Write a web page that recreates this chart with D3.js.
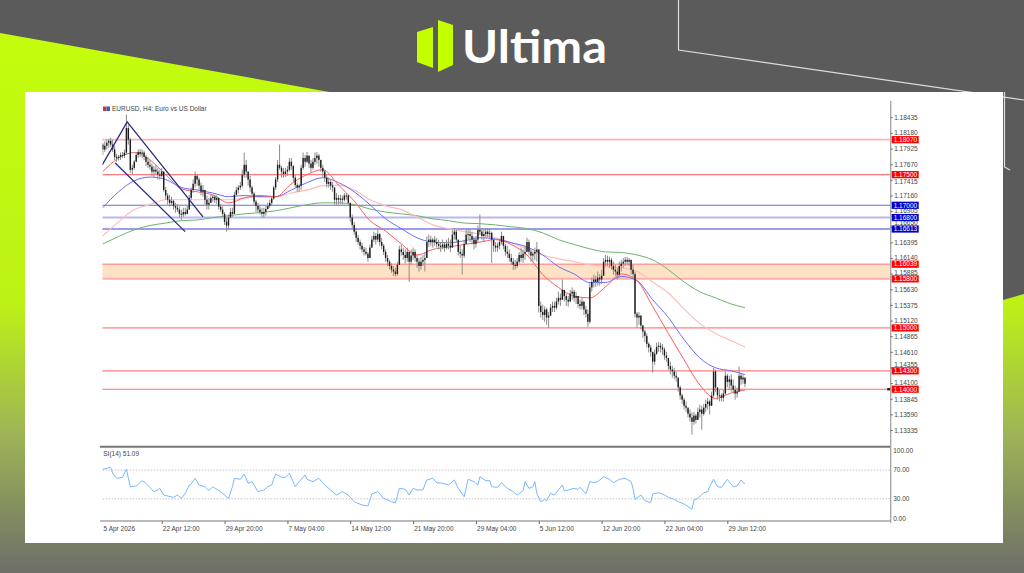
<!DOCTYPE html>
<html>
<head>
<meta charset="utf-8">
<style>
  body { margin: 0; background: #5b5b5b; }
  svg { display: block; }
  .axis text, .lbl { font-family: "Liberation Sans", Arial, sans-serif; font-size: 6.5px; fill: #444; }
  .axis path { display: none; }
  .axis line { stroke: #666; }
</style>
<script src="https://cdn.jsdelivr.net/npm/d3@7/dist/d3.min.js"></script>
</head>
<body>
<svg id="chart" width="1024" height="573"></svg>
<script>
// ---- data (EURUSD H4) ----
var firstBar = 2;       // index of the first visible bar
var firstOpen = 1.1799;
var highs = [
  1.1802,1.1804,1.1807,1.1808,1.1810,1.1807,1.1797,1.1784,1.1782,1.1786,
  1.1787,1.1791,1.1848,1.1831,1.1810,1.1766,1.1774,1.1787,1.1791,1.1792,
  1.1791,1.1789,1.1782,1.1779,1.1774,1.1768,1.1764,1.1766,1.1761,1.1758,
  1.1761,1.1755,1.1730,1.1720,1.1717,1.1714,1.1709,1.1704,1.1702,1.1698,
  1.1693,1.1696,1.1696,1.1699,1.1717,1.1729,1.1742,1.1755,1.1751,1.1745,
  1.1737,1.1733,1.1722,1.1716,1.1712,1.1717,1.1717,1.1717,1.1716,1.1709,
  1.1702,1.1698,1.1689,1.1680,1.1685,1.1696,1.1696,1.1722,1.1730,1.1733,
  1.1738,1.1758,1.1786,1.1774,1.1755,1.1748,1.1732,1.1722,1.1709,1.1704,
  1.1699,1.1696,1.1696,1.1699,1.1704,1.1709,1.1714,1.1732,1.1746,1.1774,
  1.1799,1.1764,1.1761,1.1761,1.1764,1.1777,1.1777,1.1766,1.1750,1.1737,
  1.1735,1.1766,1.1786,1.1782,1.1787,1.1781,1.1774,1.1777,1.1786,1.1787,
  1.1784,1.1774,1.1766,1.1758,1.1750,1.1745,1.1742,1.1738,1.1729,1.1720,
  1.1717,1.1717,1.1716,1.1720,1.1720,1.1717,1.1701,1.1685,1.1673,1.1663,
  1.1652,1.1644,1.1639,1.1632,1.1631,1.1624,1.1636,1.1650,1.1657,1.1655,
  1.1660,1.1655,1.1647,1.1637,1.1628,1.1619,1.1611,1.1605,1.1601,1.1598,
  1.1608,1.1634,1.1636,1.1631,1.1628,1.1631,1.1619,1.1628,1.1631,1.1628,
  1.1619,1.1614,1.1616,1.1619,1.1624,1.1649,1.1652,1.1650,1.1647,1.1650,
  1.1647,1.1644,1.1640,1.1644,1.1640,1.1644,1.1647,1.1644,1.1660,1.1663,
  1.1660,1.1644,1.1634,1.1628,1.1644,1.1660,1.1663,1.1660,1.1657,1.1649,
  1.1650,1.1667,1.1685,1.1663,1.1660,1.1663,1.1663,1.1662,1.1657,1.1644,
  1.1640,1.1639,1.1644,1.1657,1.1650,1.1637,1.1634,1.1628,1.1621,1.1614,
  1.1611,1.1614,1.1624,1.1631,1.1628,1.1634,1.1647,1.1644,1.1628,1.1624,
  1.1631,1.1640,1.1619,1.1543,1.1538,1.1535,1.1533,1.1526,1.1539,1.1543,
  1.1543,1.1549,1.1559,1.1556,1.1579,1.1562,1.1556,1.1552,1.1562,1.1566,
  1.1562,1.1559,1.1551,1.1546,1.1549,1.1543,1.1536,1.1530,1.1575,1.1582,
  1.1587,1.1585,1.1592,1.1588,1.1595,1.1614,1.1619,1.1618,1.1616,1.1614,
  1.1608,1.1603,1.1598,1.1608,1.1611,1.1614,1.1616,1.1616,1.1614,1.1608,
  1.1603,1.1592,1.1526,1.1526,1.1521,1.1505,1.1497,1.1491,1.1477,1.1472,
  1.1460,1.1465,1.1476,1.1477,1.1476,1.1474,1.1468,1.1461,1.1451,1.1445,
  1.1438,1.1435,1.1429,1.1419,1.1406,1.1393,1.1386,1.1380,1.1370,1.1367,
  1.1362,1.1363,1.1360,1.1370,1.1375,1.1373,1.1376,1.1383,1.1386,1.1383,
  1.1396,1.1435,1.1432,1.1403,1.1399,1.1393,1.1399,1.1429,1.1425,1.1422,
  1.1424,1.1416,1.1406,1.1403,1.1437,1.1425,1.1424,1.1419
];
var lows = [
  1.1782,1.1787,1.1791,1.1794,1.1795,1.1787,1.1774,1.1771,1.1773,1.1774,
  1.1777,1.1777,1.1782,1.1799,1.1753,1.1750,1.1758,1.1771,1.1777,1.1779,
  1.1777,1.1774,1.1764,1.1761,1.1758,1.1748,1.1746,1.1750,1.1742,1.1742,
  1.1745,1.1722,1.1709,1.1701,1.1698,1.1699,1.1693,1.1688,1.1689,1.1680,
  1.1676,1.1681,1.1683,1.1685,1.1693,1.1709,1.1720,1.1729,1.1732,1.1725,
  1.1716,1.1714,1.1701,1.1693,1.1693,1.1704,1.1706,1.1704,1.1702,1.1693,
  1.1689,1.1681,1.1668,1.1657,1.1660,1.1680,1.1681,1.1689,1.1716,1.1719,
  1.1725,1.1729,1.1745,1.1745,1.1732,1.1722,1.1714,1.1701,1.1689,1.1688,
  1.1685,1.1680,1.1680,1.1683,1.1693,1.1696,1.1699,1.1709,1.1725,1.1738,
  1.1758,1.1745,1.1745,1.1746,1.1748,1.1755,1.1758,1.1738,1.1729,1.1722,
  1.1722,1.1725,1.1758,1.1763,1.1769,1.1761,1.1753,1.1758,1.1766,1.1768,
  1.1763,1.1755,1.1746,1.1738,1.1729,1.1729,1.1725,1.1722,1.1701,1.1701,
  1.1701,1.1702,1.1701,1.1706,1.1709,1.1701,1.1673,1.1663,1.1652,1.1640,
  1.1636,1.1628,1.1623,1.1618,1.1618,1.1608,1.1614,1.1631,1.1640,1.1636,
  1.1640,1.1634,1.1628,1.1619,1.1608,1.1601,1.1595,1.1590,1.1585,1.1584,
  1.1585,1.1608,1.1618,1.1611,1.1605,1.1608,1.1575,1.1603,1.1611,1.1608,
  1.1598,1.1592,1.1595,1.1601,1.1592,1.1619,1.1632,1.1634,1.1631,1.1634,
  1.1631,1.1628,1.1624,1.1628,1.1624,1.1628,1.1628,1.1624,1.1631,1.1644,
  1.1639,1.1618,1.1614,1.1587,1.1614,1.1636,1.1644,1.1640,1.1636,1.1628,
  1.1631,1.1640,1.1652,1.1644,1.1640,1.1647,1.1647,1.1647,1.1606,1.1624,
  1.1624,1.1624,1.1628,1.1636,1.1628,1.1618,1.1614,1.1608,1.1603,1.1595,
  1.1595,1.1598,1.1605,1.1608,1.1606,1.1611,1.1624,1.1618,1.1608,1.1608,
  1.1611,1.1608,1.1525,1.1517,1.1513,1.1510,1.1505,1.1500,1.1520,1.1526,
  1.1526,1.1530,1.1538,1.1536,1.1546,1.1543,1.1536,1.1535,1.1543,1.1546,
  1.1543,1.1539,1.1533,1.1530,1.1530,1.1521,1.1517,1.1502,1.1507,1.1559,
  1.1566,1.1567,1.1569,1.1569,1.1572,1.1587,1.1601,1.1601,1.1598,1.1595,
  1.1587,1.1585,1.1579,1.1582,1.1592,1.1598,1.1601,1.1603,1.1601,1.1587,
  1.1582,1.1517,1.1500,1.1505,1.1497,1.1484,1.1477,1.1468,1.1460,1.1453,
  1.1427,1.1440,1.1456,1.1461,1.1460,1.1456,1.1448,1.1445,1.1432,1.1424,
  1.1419,1.1416,1.1412,1.1396,1.1383,1.1376,1.1367,1.1363,1.1354,1.1347,
  1.1326,1.1342,1.1344,1.1350,1.1354,1.1334,1.1357,1.1363,1.1367,1.1359,
  1.1375,1.1386,1.1396,1.1383,1.1380,1.1380,1.1380,1.1391,1.1403,1.1399,
  1.1396,1.1393,1.1383,1.1386,1.1399,1.1407,1.1409,1.1403
];
var closes = [
  1.1791,1.1797,1.1802,1.1805,1.1799,1.1791,1.1779,1.1777,1.1779,1.1782,
  1.1781,1.1786,1.1826,1.1807,1.1758,1.1761,1.1771,1.1782,1.1787,1.1784,
  1.1786,1.1779,1.1771,1.1766,1.1763,1.1755,1.1758,1.1755,1.1750,1.1748,
  1.1755,1.1725,1.1716,1.1709,1.1704,1.1707,1.1699,1.1696,1.1693,1.1686,
  1.1685,1.1689,1.1686,1.1693,1.1712,1.1725,1.1735,1.1748,1.1742,1.1732,
  1.1722,1.1725,1.1709,1.1701,1.1704,1.1712,1.1714,1.1709,1.1712,1.1698,
  1.1693,1.1686,1.1673,1.1667,1.1680,1.1689,1.1686,1.1717,1.1725,1.1729,
  1.1732,1.1750,1.1766,1.1755,1.1742,1.1729,1.1719,1.1706,1.1699,1.1693,
  1.1689,1.1686,1.1689,1.1694,1.1699,1.1704,1.1711,1.1729,1.1742,1.1766,
  1.1761,1.1755,1.1751,1.1755,1.1758,1.1771,1.1764,1.1745,1.1733,1.1729,
  1.1732,1.1761,1.1777,1.1771,1.1781,1.1768,1.1761,1.1771,1.1777,1.1781,
  1.1774,1.1761,1.1755,1.1745,1.1735,1.1738,1.1732,1.1729,1.1709,1.1712,
  1.1709,1.1711,1.1709,1.1716,1.1716,1.1704,1.1680,1.1668,1.1657,1.1647,
  1.1640,1.1634,1.1628,1.1624,1.1621,1.1614,1.1631,1.1644,1.1650,1.1644,
  1.1653,1.1640,1.1634,1.1624,1.1614,1.1608,1.1601,1.1595,1.1592,1.1588,
  1.1603,1.1628,1.1624,1.1619,1.1614,1.1624,1.1608,1.1618,1.1624,1.1614,
  1.1608,1.1601,1.1608,1.1611,1.1614,1.1640,1.1644,1.1640,1.1644,1.1640,
  1.1637,1.1634,1.1632,1.1636,1.1631,1.1637,1.1634,1.1631,1.1652,1.1657,
  1.1644,1.1624,1.1621,1.1618,1.1637,1.1652,1.1653,1.1650,1.1644,1.1637,
  1.1644,1.1660,1.1657,1.1650,1.1653,1.1657,1.1653,1.1655,1.1644,1.1634,
  1.1631,1.1634,1.1640,1.1650,1.1634,1.1624,1.1621,1.1614,1.1608,1.1603,
  1.1601,1.1608,1.1619,1.1614,1.1621,1.1624,1.1640,1.1624,1.1618,1.1621,
  1.1624,1.1628,1.1536,1.1526,1.1521,1.1530,1.1517,1.1520,1.1533,1.1536,
  1.1533,1.1543,1.1549,1.1546,1.1562,1.1552,1.1546,1.1543,1.1556,1.1559,
  1.1549,1.1552,1.1539,1.1536,1.1543,1.1530,1.1523,1.1510,1.1566,1.1575,
  1.1579,1.1575,1.1582,1.1579,1.1585,1.1608,1.1611,1.1608,1.1611,1.1601,
  1.1595,1.1592,1.1587,1.1601,1.1605,1.1608,1.1611,1.1608,1.1611,1.1595,
  1.1588,1.1523,1.1517,1.1520,1.1504,1.1494,1.1487,1.1474,1.1468,1.1461,
  1.1445,1.1458,1.1469,1.1471,1.1468,1.1465,1.1455,1.1451,1.1438,1.1432,
  1.1429,1.1422,1.1419,1.1403,1.1390,1.1383,1.1373,1.1370,1.1360,1.1354,
  1.1347,1.1357,1.1350,1.1363,1.1367,1.1360,1.1370,1.1376,1.1380,1.1373,
  1.1390,1.1429,1.1403,1.1390,1.1390,1.1386,1.1393,1.1422,1.1412,1.1416,
  1.1406,1.1399,1.1393,1.1396,1.1422,1.1416,1.1419,1.1409
];

// moving averages sampled at these bar indices
var maIdx = [2,10,18,26,34,42,50,58,66,74,82,90,98,106,114,122,130,138,146,154,162,170,
  178,186,194,202,210,218,226,234,242,250,258,266,274,282,290,298,306,314,322,329];
var maRed = [1.1755,1.1777,1.1786,1.1774,1.1750,1.1727,1.1722,1.1717,1.1704,1.1712,1.1716,1.1714,
  1.1735,1.1750,1.1758,1.1733,1.1707,1.1675,1.1658,1.1637,1.1619,1.1628,1.1632,1.1636,1.1640,1.1644,
  1.1636,1.1619,1.1587,1.1566,1.1552,1.1549,1.1567,1.1588,1.1577,1.1535,1.1491,1.1448,1.1407,1.1385,
  1.1394,1.1399];
var maBlue = [1.1696,1.1722,1.1740,1.1746,1.1742,1.1729,1.1725,1.1720,1.1714,1.1716,1.1714,1.1714,
  1.1725,1.1737,1.1745,1.1737,1.1722,1.1701,1.1678,1.1662,1.1647,1.1640,1.1639,1.1642,1.1647,1.1645,
  1.1639,1.1632,1.1619,1.1600,1.1588,1.1574,1.1574,1.1584,1.1577,1.1546,1.1517,1.1481,1.1451,1.1435,
  1.1430,1.1424];
var maPink = [1.1650,1.1673,1.1693,1.1701,1.1709,1.1709,1.1709,1.1709,1.1709,1.1712,1.1714,1.1714,
  1.1720,1.1725,1.1732,1.1733,1.1725,1.1709,1.1699,1.1693,1.1681,1.1668,1.1662,1.1657,1.1653,1.1647,
  1.1639,1.1629,1.1619,1.1613,1.1608,1.1603,1.1600,1.1598,1.1592,1.1575,1.1557,1.1531,1.1507,1.1491,
  1.1479,1.1469];
var maGreen = [1.1637,1.1649,1.1660,1.1667,1.1671,1.1675,1.1676,1.1680,1.1683,1.1686,1.1688,1.1691,
  1.1696,1.1701,1.1704,1.1704,1.1701,1.1694,1.1689,1.1686,1.1683,1.1678,1.1675,1.1671,1.1670,1.1668,
  1.1665,1.1662,1.1655,1.1644,1.1636,1.1629,1.1624,1.1623,1.1619,1.1611,1.1595,1.1575,1.1559,1.1549,
  1.1539,1.1533];

// RSI(14)
var rsiIdx = [2,6,7,9,12,14,16,19,22,24,28,30,31,33,35,38,40,42,44,46,47,49,51,54,56,58,62,64,66,68,
  69,72,74,76,78,81,84,86,88,90,93,95,97,100,102,105,106,109,112,115,118,121,124,127,130,134,137,139,
  142,145,149,151,153,156,158,160,162,165,167,170,172,175,178,181,183,186,188,191,193,194,197,199,200,
  203,205,208,211,213,216,217,219,221,222,223,225,227,228,230,232,234,236,237,239,242,244,245,247,248,
  250,252,254,257,260,262,265,268,271,272,273,276,278,281,282,285,288,290,293,295,298,300,302,303,305,
  308,310,311,313,315,317,320,321,323,325,327,328,329];
var rsiVal = [71.1,73.9,65.6,58.6,60.0,71.1,46.9,47.9,55.3,51.7,40.0,42.4,44.7,35.4,34.0,32.2,35.4,30.8,
  37.8,49.3,50.7,58.6,49.3,46.9,41.4,46.9,40.0,35.4,30.8,46.9,58.6,57.2,64.6,51.7,53.9,40.0,42.4,46.9,
  49.3,64.6,60.0,60.0,65.6,46.9,53.9,63.2,57.2,53.9,58.6,49.3,42.4,35.4,40.0,35.4,26.1,21.5,20.1,36.8,
  40.0,30.8,26.1,24.7,44.7,43.3,35.4,44.7,42.4,42.4,56.3,58.6,52.5,51.7,49.3,56.3,44.7,33.1,57.2,53.9,
  49.3,60.8,55.3,55.3,46.9,46.1,52.5,44.7,40.0,35.4,41.4,53.9,44.7,46.9,53.9,37.8,26.1,29.4,27.5,37.8,
  35.4,42.4,49.3,41.4,42.4,44.7,43.3,46.1,40.0,36.8,53.9,52.5,53.9,60.8,57.2,52.5,57.2,58.6,53.9,44.7,
  29.4,35.4,27.5,24.7,36.8,38.6,35.4,32.2,29.4,26.1,22.9,19.2,15.6,28.5,30.8,38.6,40.0,46.9,57.2,46.9,
  46.1,57.2,53.9,46.9,47.9,56.3,52.5,51.09];
var rsiTicks = [100, 70, 30, 0];

// horizontal levels and zone
var levelValues = [1.18070, 1.17500, 1.17000, 1.16800, 1.16613, 1.16039, 1.15800, 1.15000, 1.14300, 1.14000];
var levelKinds  = ["r", "r", "b", "b", "b", "r", "r", "r", "r", "r"];
var zone = [1.15800, 1.16039];

// hand-drawn channel (bar index, price)
var channelA = [[1.7, 1.1766], [14.4, 1.1836], [53.0, 1.1681]];
var channelB = [[8.3, 1.1769], [43.9, 1.1657]];

var priceTicks = [1.18435,1.18180,1.17925,1.17670,1.17415,1.17160,1.16905,1.16650,1.16395,1.16140,
  1.15885,1.15630,1.15375,1.15120,1.14865,1.14610,1.14355,1.14100,1.13845,1.13590,1.13335];
var timeIdx = [0, 32, 64, 96, 128, 160, 192, 224, 256, 288, 320];
var timeLabels = ["15 Apr 2026","22 Apr 12:00","29 Apr 20:00","7 May 04:00","14 May 12:00","21 May 20:00",
  "29 May 04:00","5 Jun 12:00","12 Jun 20:00","22 Jun 04:00","29 Jun 12:00"];

// ---- drawing ----
var svg = d3.select("#chart");
var defs = svg.append("defs");

var grad = defs.append("linearGradient").attr("id", "lime")
  .attr("gradientUnits", "userSpaceOnUse").attr("x1", 0).attr("y1", 30).attr("x2", 0).attr("y2", 573);
grad.append("stop").attr("offset", 0).attr("stop-color", "#c4fd0c");
grad.append("stop").attr("offset", 0.5).attr("stop-color", "#bdf216");
grad.append("stop").attr("offset", 0.75).attr("stop-color", "#9db356");
grad.append("stop").attr("offset", 1).attr("stop-color", "#6d6e68");

svg.append("rect").attr("width", 1024).attr("height", 573).attr("fill", "#5b5b5b");
svg.append("path")
  .attr("d", "M0,33 L335,93 L335,300 L1003,300 L1024,294 L1024,573 L0,573 Z")
  .attr("fill", "url(#lime)");
svg.append("path")
  .attr("d", "M678.5,0 V50 L1024,100 M1004.5,92 V167 L1010,170")
  .attr("fill", "none").attr("stroke", "#dcdcdc").attr("stroke-width", 1.2);

// logo
svg.append("polygon").attr("points", "417,32 433,27 433,68 417,62").attr("fill", "#c4ff00");
svg.append("polygon").attr("points", "438,20 453,25 453,65 438,72").attr("fill", "#c4ff00");
svg.append("text").attr("x", 462).attr("y", 63).text("Ultima")
  .attr("font-family", "Lato, 'Open Sans', sans-serif").attr("font-weight", 700)
  .attr("font-size", 46).attr("fill", "#ffffff")
  .attr("textLength", 145).attr("lengthAdjust", "spacingAndGlyphs");

// white panel
svg.append("rect").attr("x", 25).attr("y", 92).attr("width", 978).attr("height", 451).attr("fill", "#fff");

var x = d3.scaleLinear().domain([0, 320]).range([98.9, 727.3]);
var y = d3.scaleLinear().domain([1.13058, 1.18717]).range([447, 100]);
var ry = d3.scaleLinear().domain([0, 100]).range([520.5, 448.5]);
var axisX = 890.7;

defs.append("clipPath").attr("id", "plot").append("rect")
  .attr("x", 102.5).attr("y", 100).attr("width", axisX - 102.5).attr("height", 346);
defs.append("clipPath").attr("id", "left").append("rect")
  .attr("x", 102.5).attr("y", 92).attr("width", 900).attr("height", 451);
defs.append("clipPath").attr("id", "leftText").append("rect")
  .attr("x", 103.2).attr("y", 92).attr("width", 900).attr("height", 451);

var plot = svg.append("g").attr("clip-path", "url(#plot)");

// zone
plot.append("rect").attr("x", 100).attr("width", axisX - 100)
  .attr("y", y(zone[1])).attr("height", y(zone[0]) - y(zone[1]))
  .attr("fill", "#fde2c6");

var levelStyle = {
  "1.1807": ["#ffb4b4", 1.6], "1.175": ["#ff7a7a", 1.1], "1.17": ["#6a6ae6", 1.1],
  "1.168": ["#b8b8f2", 2], "1.16613": ["#7c7ce8", 1.4], "1.16039": ["#ff9c9c", 1.5],
  "1.158": ["#ffacac", 2], "1.15": ["#ffa4a4", 1.6], "1.143": ["#ff7c7c", 1.1], "1.14": ["#ff6c6c", 1.1]
};
plot.selectAll(".lvl").data(levelValues).enter().append("line")
  .attr("x1", 100).attr("x2", axisX)
  .attr("y1", function(d) { return y(d); }).attr("y2", function(d) { return y(d); })
  .attr("stroke", function(d) { return levelStyle[String(d)][0]; })
  .attr("stroke-width", function(d) { return levelStyle[String(d)][1]; });

// moving averages
var ma = d3.line().x(function(d) { return x(d[0]); }).y(function(d) { return y(d[1]); })
  .curve(d3.curveMonotoneX);
[[maGreen, "#6cb46c", 1], [maPink, "#ffbcbc", 1.2], [maBlue, "#6b6bff", 1], [maRed, "#ff5c5c", 1]]
  .forEach(function(s) {
    plot.append("path").datum(maIdx.map(function(i, k) { return [i, s[0][k]]; }))
      .attr("d", ma).attr("fill", "none").attr("stroke", s[1]).attr("stroke-width", s[2]);
  });

// candles
var bars = closes.map(function(c, k) {
  var o = k ? closes[k - 1] : firstOpen;
  return { i: firstBar + k, o: o, c: c,
    h: Math.max(highs[k], o, c), l: Math.min(lows[k], o, c) };
});
plot.selectAll(".wick").data(bars).enter().append("line")
  .attr("x1", function(d) { return x(d.i); }).attr("x2", function(d) { return x(d.i); })
  .attr("y1", function(d) { return y(d.h); }).attr("y2", function(d) { return y(d.l); })
  .attr("stroke", "#8c8c8c").attr("stroke-width", 1);
plot.selectAll(".body").data(bars).enter().append("rect")
  .attr("x", function(d) { return x(d.i) - 0.7; }).attr("width", 1.4)
  .attr("y", function(d) { return y(Math.max(d.o, d.c)); })
  .attr("height", function(d) { return Math.max(1, Math.abs(y(d.o) - y(d.c))); })
  .attr("fill", "#1c1c1c");

// channel
var cl = d3.line().x(function(d) { return x(d[0]); }).y(function(d) { return y(d[1]); });
[channelA, channelB].forEach(function(c) {
  plot.append("path").datum(c).attr("d", cl).attr("fill", "none")
    .attr("stroke", "#2a2a80").attr("stroke-width", 1.3);
});

// title
svg.append("rect").attr("x", 103).attr("y", 106.5).attr("width", 3.5).attr("height", 4.5).attr("fill", "#c83a3a");
svg.append("rect").attr("x", 106.5).attr("y", 106.5).attr("width", 3.5).attr("height", 4.5).attr("fill", "#3a5ac8");
svg.append("text").attr("class", "lbl").attr("x", 112).attr("y", 111)
  .text("EURUSD, H4:  Euro vs US Dollar");

// panel frames
svg.append("line").attr("x1", 100).attr("x2", axisX).attr("y1", 446.8).attr("y2", 446.8)
  .attr("stroke", "#767676").attr("stroke-width", 2);
svg.append("line").attr("x1", 100).attr("x2", axisX).attr("y1", 521).attr("y2", 521)
  .attr("stroke", "#a4a4a4").attr("stroke-width", 1.4);
svg.append("line").attr("x1", axisX).attr("x2", axisX).attr("y1", 101).attr("y2", 523)
  .attr("stroke", "#a8a8a8").attr("stroke-width", 1.4);

// price axis; labels that would run under a level box are nudged clear of it
var pa = svg.append("g").attr("class", "axis").attr("transform", "translate(" + axisX + ",0)")
  .call(d3.axisRight(y).tickValues(priceTicks).tickSize(2).tickPadding(1.5).tickFormat(d3.format(".5f")));
pa.selectAll(".tick text").attr("dy", function(d) {
  var ty = y(d), shift = 0;
  levelValues.forEach(function(l) {
    var gap = ty - y(l);
    if (Math.abs(gap) < 7) shift = gap < 0 ? (-7 - gap) : (7 - gap);
  });
  return (shift + 2.3) + "px";
});

// level labels
var lab = svg.selectAll(".lvlLab").data(levelValues).enter().append("g")
  .attr("transform", function(d) { return "translate(" + (axisX + 1) + "," + y(d) + ")"; });
lab.append("rect").attr("x", 0).attr("y", -3.6).attr("width", 27).attr("height", 7.2)
  .attr("fill", function(d, i) { return levelKinds[i] === "r" ? "#ff0000" : "#0000c8"; });
lab.append("text").attr("class", "lbl").attr("x", 2).attr("dy", "0.35em")
  .style("fill", "#fff").text(function(d) { return d3.format(".5f")(d); });
svg.append("rect").attr("x", axisX - 3.5).attr("y", y(1.14) - 1.2).attr("width", 3).attr("height", 2.4).attr("fill", "#222");

// RSI panel
svg.selectAll(".rg").data([70, 30]).enter().append("line")
  .attr("x1", 102.5).attr("x2", axisX)
  .attr("y1", function(d) { return ry(d); }).attr("y2", function(d) { return ry(d); })
  .attr("stroke", "#c4c4c4").attr("stroke-dasharray", "1.5,1.5");
svg.append("path")
  .datum(rsiIdx.map(function(i, k) { return [i, rsiVal[k]]; }))
  .attr("clip-path", "url(#left)")
  .attr("d", d3.line().x(function(d) { return x(d[0]); }).y(function(d) { return ry(d[1]); }))
  .attr("fill", "none").attr("stroke", "#78b8ff").attr("stroke-width", 1);
svg.append("text").attr("class", "lbl").attr("clip-path", "url(#leftText)")
  .attr("x", 98.6).attr("y", 455.6).text("RSI(14) 51.09");
svg.selectAll(".rl").data(rsiTicks).enter().append("text").attr("class", "lbl")
  .attr("x", axisX + 2.5)
  .attr("y", function(d) { return Math.min(519, Math.max(451, ry(d))); })
  .attr("dy", "0.35em").text(function(d) { return d3.format(".2f")(d); });

// time axis (clip lives on an untransformed wrapper)
var ta = svg.append("g").attr("clip-path", "url(#leftText)")
  .append("g").attr("class", "axis").attr("transform", "translate(0,521)")
  .call(d3.axisBottom(x).tickValues(timeIdx).tickSize(3).tickPadding(2.5)
    .tickFormat(function(d, i) { return timeLabels[i]; }));
ta.selectAll("text").attr("text-anchor", "start").attr("dx", "0.6");
</script>
</body>
</html>
